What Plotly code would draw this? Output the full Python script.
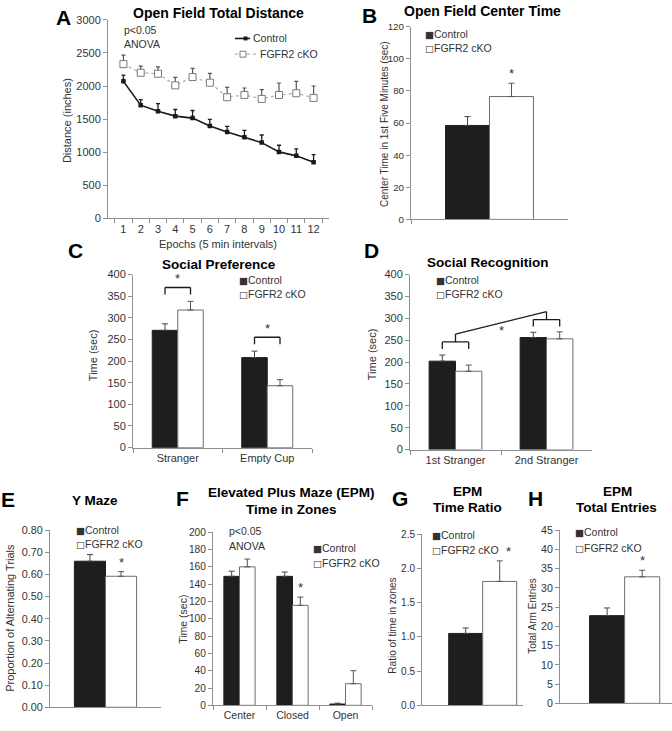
import plotly.graph_objects as go

W, H = 672, 731
FONT = "Liberation Sans, Arial, sans-serif"
TXT = "#333333"
AXC = "#8f8f8f"
CTRL_FILL = "#1e1e1e"
CKO_LINE = "#6e6e6e"

# ---------------- data ----------------
# A: open field total distance
epochs = ["1", "2", "3", "4", "5", "6", "7", "8", "9", "10", "11", "12"]
a_ctrl = [2070, 1710, 1620, 1545, 1515, 1395, 1305, 1225, 1145, 1005, 945, 850]
a_ctrl_err = [95, 85, 115, 100, 115, 100, 85, 105, 115, 100, 105, 115]
a_cko = [2330, 2200, 2185, 2010, 2135, 2050, 1830, 1865, 1805, 1865, 1890, 1820]
a_cko_err = [135, 100, 105, 120, 130, 140, 150, 105, 140, 180, 180, 180]

# B: open field center time
b_cats = ["Center Time"]
b_ctrl, b_ctrl_err = [58.5], [5.5]
b_cko, b_cko_err = [76.5], [8.3]

# C: social preference
c_cats = ["Stranger", "Empty Cup"]
c_ctrl, c_ctrl_err = [271, 208], [15, 15]
c_cko, c_cko_err = [318, 143], [20, 14]

# D: social recognition
d_cats = ["1st Stranger", "2nd Stranger"]
d_ctrl, d_ctrl_err = [202, 256], [14, 12]
d_cko, d_cko_err = [179, 253], [14, 16]

# E: Y maze
e_cats = ["Y Maze"]
e_ctrl, e_ctrl_err = [0.660], [0.030]
e_cko, e_cko_err = [0.592], [0.021]

# F: EPM time in zones
f_cats = ["Center", "Closed", "Open"]
f_ctrl, f_ctrl_err = [149, 149, 1.5], [6, 5, 1]
f_cko, f_cko_err = [160, 115.5, 25], [9, 9.5, 15]

# G: EPM time ratio
g_cats = ["Ratio"]
g_ctrl, g_ctrl_err = [1.05], [0.08]
g_cko, g_cko_err = [1.81], [0.30]

# H: EPM total entries
h_cats = ["Entries"]
h_ctrl, h_ctrl_err = [22.8], [2.0]
h_cko, h_cko_err = [32.9], [1.7]

legend_names = ["Control", "FGFR2 cKO"]


def px(x):
    return x / W


def py(y):
    return 1 - y / H


fig = go.Figure()

# ---------------- panel A (line chart) ----------------
fig.add_trace(go.Scatter(
    x=epochs, y=a_cko, mode="lines+markers", name=legend_names[1],
    line=dict(color="#b4b4b4", width=1.3, dash="dot"),
    marker=dict(symbol="square", size=7, color="white", line=dict(color="#7a7a7a", width=1)),
    error_y=dict(type="data", array=a_cko_err, arrayminus=[0] * len(a_cko), symmetric=False,
                 color="#555555", thickness=1.2, width=2),
    xaxis="x", yaxis="y", showlegend=False))
fig.add_trace(go.Scatter(
    x=epochs, y=a_ctrl, mode="lines+markers", name=legend_names[0],
    line=dict(color="#1a1a1a", width=1.6),
    marker=dict(symbol="square", size=4.5, color="#1a1a1a"),
    error_y=dict(type="data", array=a_ctrl_err, arrayminus=[0] * len(a_ctrl), symmetric=False,
                 color="#1a1a1a", thickness=1.3, width=2),
    xaxis="x", yaxis="y", showlegend=False))


def bar_pair(n, cats, cv, ce, kv, ke, w):
    xa, ya = "x%d" % n, "y%d" % n
    fig.add_trace(go.Bar(
        x=cats, y=cv, width=w, offset=-w, name=legend_names[0],
        marker=dict(color=CTRL_FILL, line=dict(color=CTRL_FILL, width=1)),
        error_y=dict(type="data", array=ce, arrayminus=[0] * len(cv), symmetric=False,
                     color="#444444", thickness=1, width=3),
        xaxis=xa, yaxis=ya, showlegend=False))
    fig.add_trace(go.Bar(
        x=cats, y=kv, width=w, offset=0, name=legend_names[1],
        marker=dict(color="white", line=dict(color=CKO_LINE, width=1)),
        error_y=dict(type="data", array=ke, arrayminus=[0] * len(kv), symmetric=False,
                     color="#555555", thickness=1, width=3),
        xaxis=xa, yaxis=ya, showlegend=False))


W_B, W_C, W_D, W_E, W_F, W_G, W_H = 0.28, 0.285, 0.29, 0.28, 0.295, 0.28, 0.28
bar_pair(2, b_cats, b_ctrl, b_ctrl_err, b_cko, b_cko_err, W_B)
bar_pair(3, c_cats, c_ctrl, c_ctrl_err, c_cko, c_cko_err, W_C)
bar_pair(4, d_cats, d_ctrl, d_ctrl_err, d_cko, d_cko_err, W_D)
bar_pair(5, e_cats, e_ctrl, e_ctrl_err, e_cko, e_cko_err, W_E)
bar_pair(6, f_cats, f_ctrl, f_ctrl_err, f_cko, f_cko_err, W_F)
bar_pair(7, g_cats, g_ctrl, g_ctrl_err, g_cko, g_cko_err, W_G)
bar_pair(8, h_cats, h_ctrl, h_ctrl_err, h_cko, h_cko_err, W_H)

# ---------------- axes ----------------
# (x0, x1, ytop, ybottom) in pixels
boxes = {
    1: (108, 329, 14, 216),
    2: (411, 568, 21, 217),
    3: (133, 312, 273, 449),
    4: (410, 592, 273, 451),
    5: (50, 161, 533, 713),
    6: (213, 372, 535, 711),
    7: (422, 523, 537, 711),
    8: (560, 672, 533, 709),
}
yspec = {
    1: ([0, 3000], 500, None, 11),
    2: ([0, 120], 20, None, 9.8),
    3: ([0, 400], 50, None, 11),
    4: ([0, 400], 50, None, 11),
    5: ([0, 0.8], 0.1, ".2f", 10.8),
    6: ([0, 200], 20, None, 10.2),
    7: ([0, 2.5], 0.5, ".1f", 10),
    8: ([0, 45], 5, None, 10.6),
}
xranges = {7: [-0.5, 0.332], 8: [-0.516, 0.378]}
xlabels_on = {1: True, 2: False, 3: True, 4: True, 5: False, 6: True, 7: False, 8: False}
xfont = {1: 11, 3: 11, 4: 11, 6: 10.5}

layout_axes = {}
for n, (x0, x1, yt, yb) in boxes.items():
    sx = "" if n == 1 else str(n)
    rng, dt, fmt, fs = yspec[n]
    xa = dict(domain=[px(x0), px(x1)], anchor="y" + sx, type="category",
              showline=True, linecolor=AXC, linewidth=1, showgrid=False, zeroline=False,
              ticks="outside" if xlabels_on[n] or n == 2 else "", tickson="boundaries",
              ticklen=4, tickcolor=AXC, showticklabels=xlabels_on[n], tickangle=0,
              tickfont=dict(family=FONT, size=xfont.get(n, 11), color=TXT))
    if n in xranges:
        xa["range"] = xranges[n]
    ya = dict(domain=[py(yb), py(yt)], anchor="x" + sx, range=rng, dtick=dt, tick0=0,
              showline=True, linecolor=AXC, linewidth=1, showgrid=False, zeroline=False,
              ticks="outside", ticklen=4, tickcolor=AXC,
              tickfont=dict(family=FONT, size=fs, color=TXT))
    if fmt:
        ya["tickformat"] = fmt
    layout_axes["xaxis" + sx] = xa
    layout_axes["yaxis" + sx] = ya

ann = []
shapes = []


def text(x, y, s, size=10.5, bold=False, color=TXT, xanchor="center", angle=0):
    ann.append(dict(x=px(x), y=py(y), xref="paper", yref="paper", text=("<b>%s</b>" % s) if bold else s,
                    showarrow=False, xanchor=xanchor, yanchor="middle", textangle=angle,
                    font=dict(family=FONT, size=size, color=color)))


# panel letters
for L, x, y in [("A", 63, 12), ("B", 369, 10), ("C", 75, 249), ("D", 371, 249),
                ("E", 8, 502), ("F", 183, 501), ("G", 400, 501), ("H", 535, 501)]:
    text(x, y, L, size=21, bold=True, color="black")

# titles
for s, x, y, sz in [("Open Field Total Distance", 218, 7, 14), ("Open Field Center Time", 482, 5, 14),
                    ("Social Preference", 219, 263, 13.5), ("Social Recognition", 488, 261, 13.5),
                    ("Y Maze", 95, 503, 13.5), ("Elevated Plus Maze (EPM)", 291, 495, 13.5),
                    ("Time in Zones", 291, 512, 13.5), ("EPM", 467, 494, 13.5), ("Time Ratio", 467, 510, 13.5),
                    ("EPM", 617, 494, 13.5), ("Total Entries", 616, 510, 13.5)]:
    text(x, y, s, size=sz, bold=True, color="black")

# axis titles
for s, x, y, sz in [("Distance (inches)", 67, 117, 11), ("Center Time in 1st Five Minutes (sec)", 384, 120, 10),
                    ("Time (sec)", 93, 355, 11), ("Time (sec)", 372, 354, 11),
                    ("Proportion of Alternating Trials", 10, 622, 11), ("Time (sec)", 183, 623, 10.5),
                    ("Ratio of time in zones", 393, 630, 10), ("Total Arm Entries", 533, 620, 10)]:
    text(x, y, s, size=sz, angle=-90)
text(218, 242, "Epochs (5 min intervals)", size=11)

# stats text
for x, y0 in [(122, 24), (227, 534)]:
    text(x, y0, "p<0.05", size=10.5, xanchor="left")
    text(x, y0 + 15, "ANOVA", size=10.5, xanchor="left")

# bar legends
SQ = '<span style="font-family:DejaVu Sans;font-size:9.5px">%s</span>'
for x, y1, y2 in [(423, 28, 43), (237, 279, 293), (434, 279, 293), (74, 533, 547),
                  (311, 551, 566), (430, 538, 553), (573, 535, 551)]:
    text(x, y1, SQ % "\u25a0" + legend_names[0], size=10.5, xanchor="left")
    text(x, y2, SQ % "\u25a1" + legend_names[1], size=10.5, xanchor="left")

# panel A legend (line samples)
shapes.append(dict(type="line", xref="paper", yref="paper", x0=px(235), x1=px(250), y0=py(33), y1=py(33),
                   line=dict(color="#1a1a1a", width=1.6)))
shapes.append(dict(type="rect", xref="paper", yref="paper", x0=px(243.5), x1=px(247.5), y0=py(35), y1=py(31),
                   fillcolor="#1a1a1a", line=dict(width=0)))
shapes.append(dict(type="line", xref="paper", yref="paper", x0=px(235), x1=px(257), y0=py(49), y1=py(49),
                   line=dict(color="#b4b4b4", width=1.3, dash="dot")))
shapes.append(dict(type="rect", xref="paper", yref="paper", x0=px(240), x1=px(246), y0=py(52), y1=py(46),
                   fillcolor="white", line=dict(color="#7a7a7a", width=1)))
text(251, 33, legend_names[0], size=10.5, xanchor="left")
text(258, 49, legend_names[1], size=10.5, xanchor="left")


# significance stars
def star(n, xpos, yval, yshift=0):
    ann.append(dict(x=xpos, y=yval, xref="x%d" % n, yref="y%d" % n, text="*", showarrow=False,
                    xanchor="center", yanchor="bottom", yshift=yshift,
                    font=dict(family=FONT, size=13, color=TXT)))


star(2, W_B / 2, b_cko[0] + b_cko_err[0])
star(5, W_E / 2, e_cko[0] + e_cko_err[0])
star(6, 1 + W_F / 2, f_cko[1] + f_cko_err[1])
star(7, W_G / 2 + 0.07, g_cko[0] + g_cko_err[0])
star(8, W_H / 2, h_cko[0] + h_cko_err[0])


def seg(n, xa, ya, xb, yb, color="#1a1a1a"):
    shapes.append(dict(type="line", xref="x%d" % n, yref="y%d" % n, x0=xa, y0=ya, x1=xb, y1=yb,
                       line=dict(color=color, width=1.3)))


# C brackets
for i in range(len(c_cats)):
    top = max(c_ctrl[i] + c_ctrl_err[i], c_cko[i] + c_cko_err[i])
    xl, xr = i - W_C / 2, i + W_C / 2
    seg(3, xl, top + 32, xr, top + 32)
    seg(3, xl, top + 32, xl, top + 16)
    seg(3, xr, top + 32, xr, top + 16)
    star(3, i, top + 30)

# D brackets
mids = []
for i, off in enumerate([30, 28]):
    top = max(d_ctrl[i] + d_ctrl_err[i], d_cko[i] + d_cko_err[i])
    xl, xr = i - W_D / 2, i + W_D / 2
    h = top + off
    seg(4, xl, h, xr, h)
    seg(4, xl, h, xl, h - 16)
    seg(4, xr, h, xr, h - 16)
    seg(4, i, h, i, h + 18)
    mids.append((i, h + 18))
seg(4, mids[0][0], mids[0][1], mids[1][0], mids[1][1])
star(4, 0.5, (mids[0][1] + mids[1][1]) / 2 - 40)

fig.update_layout(
    width=W, height=H, margin=dict(l=0, r=0, t=0, b=0),
    paper_bgcolor="white", plot_bgcolor="white",
    barmode="group", showlegend=False,
    font=dict(family=FONT, size=11, color=TXT),
    annotations=ann, shapes=shapes,
    **layout_axes)

fig.write_html("out.html", config={"displayModeBar": False},
               post_script="document.body.style.margin='0px';")
